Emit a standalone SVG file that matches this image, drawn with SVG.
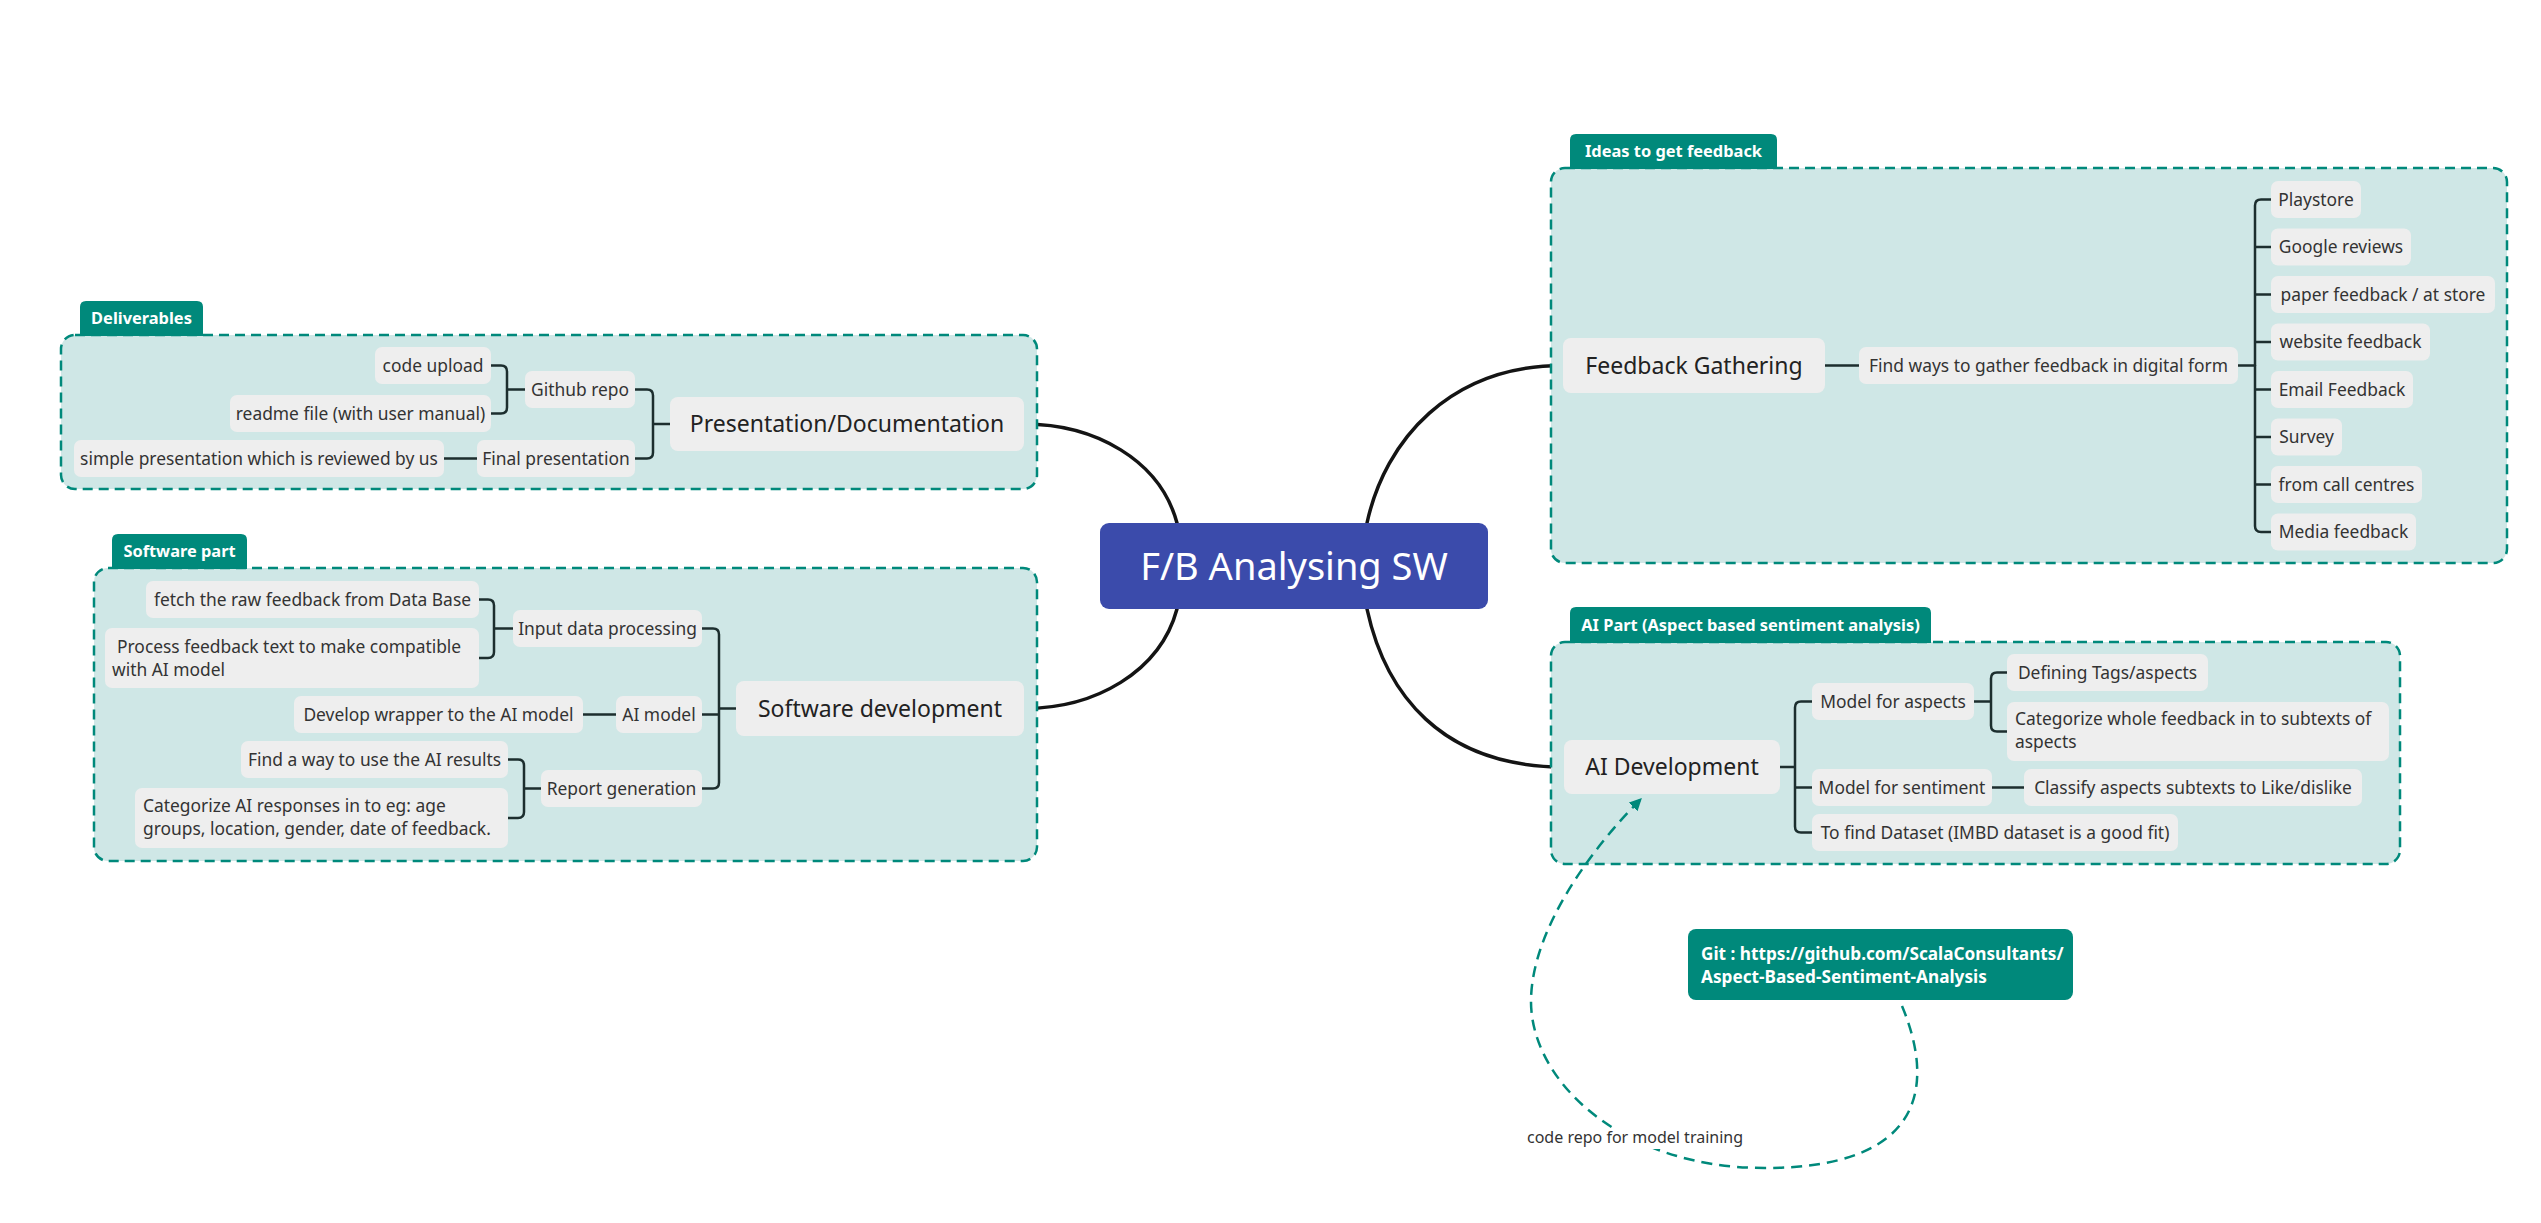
<svg xmlns="http://www.w3.org/2000/svg" width="2541" height="1223" viewBox="0 0 2541 1223">
<style>
.bg{fill:#ffffff}
.box{fill:#cfe7e6;stroke:#00897b;stroke-width:2.5;stroke-dasharray:10 6}
.tab{fill:#00897b}
.tabt{fill:#ffffff;font-family:"Noto Sans","Open Sans",sans-serif;font-size:16.4px;font-weight:700}
.n{fill:#eeeeee}
.t{fill:#333333;font-family:"Noto Sans","Open Sans",sans-serif;font-size:17.4px}
.tc{text-anchor:middle}
.tl{fill:#222222;font-family:"Noto Sans","Open Sans",sans-serif;font-size:23px;text-anchor:middle}
.br{fill:none;stroke:#1c2e2e;stroke-width:2.5;stroke-linecap:round;stroke-linejoin:round}
.main{fill:none;stroke:#141414;stroke-width:3.5;stroke-linecap:round}
.rel{fill:none;stroke:#00897b;stroke-width:2.5;stroke-dasharray:11 7}
</style>
<defs>
<marker id="arr" viewBox="0 0 10 10" refX="9" refY="5" markerWidth="5" markerHeight="5" orient="auto" markerUnits="strokeWidth">
<path d="M0,0 L10,5 L0,10 Z" fill="#00897b"/>
</marker>
</defs>
<rect class="bg" x="0" y="0" width="2541" height="1223"/>

<g id="connectors">
<path class="main" d="M1024,424 C1095,424 1160,460 1177,523"/>
<path class="main" d="M1024,708.5 C1095,708.5 1160,672 1177,609"/>
<path class="main" d="M1367,523 C1385,440 1450,365.5 1563,365.5"/>
<path class="main" d="M1367,609 C1385,692 1440,767 1564,767"/>
</g>

<g id="group-deliverables">
<rect class="box" x="61" y="335" width="976" height="154" rx="14"/>
<path class="tab" d="M80,336 V307 Q80,301 86,301 H197 Q203,301 203,307 V336 Z"/>
<text class="tabt" x="141.5" y="324" text-anchor="middle">Deliverables</text>
</g>
<g id="deliverables-connectors">
<path class="br" d="M491,365.5 H501 Q507,365.5 507,371.5 V407.5 Q507,413.5 501,413.5 H491 M507,389.5 H525"/>
<path class="br" d="M444,458.5 H477"/>
<path class="br" d="M635,389.5 H647 Q653,389.5 653,395.5 V452.5 Q653,458.5 647,458.5 H635 M653,424 H670"/>
</g>
<g id="node-code-upload"><rect class="n" x="375" y="347" width="116" height="37" rx="7"/><text class="t tc" x="433" y="371.5">code upload</text></g>
<g id="node-readme"><rect class="n" x="230" y="395" width="261" height="37" rx="7"/><text class="t tc" x="360.5" y="419.5">readme file (with user manual)</text></g>
<g id="node-github-repo"><rect class="n" x="525" y="371" width="110" height="37" rx="7"/><text class="t tc" x="580" y="395.5">Github repo</text></g>
<g id="node-final-presentation"><rect class="n" x="477" y="440" width="158" height="37" rx="7"/><text class="t tc" x="556" y="464.5">Final presentation</text></g>
<g id="node-simple-presentation"><rect class="n" x="74" y="440" width="370" height="37" rx="7"/><text class="t tc" x="259" y="464.5">simple presentation which is reviewed by us</text></g>
<g id="node-presentation-documentation"><rect class="n" x="670" y="397" width="354" height="54" rx="8"/><text class="tl" x="847" y="432">Presentation/Documentation</text></g>

<g id="group-software">
<rect class="box" x="94" y="568" width="943" height="293" rx="14"/>
<path class="tab" d="M112,569 V540 Q112,534 118,534 H241 Q247,534 247,540 V569 Z"/>
<text class="tabt" x="179.5" y="557" text-anchor="middle">Software part</text>
</g>
<g id="software-connectors">
<path class="br" d="M479,599.5 H488 Q494,599.5 494,605.5 V652 Q494,658 488,658 H479 M494,628.5 H513"/>
<path class="br" d="M583,714.5 H616"/>
<path class="br" d="M508,759.5 H518 Q524,759.5 524,765.5 V812 Q524,818 518,818 H508 M524,788.5 H541"/>
<path class="br" d="M702,628.5 H713 Q719,628.5 719,634.5 V782.5 Q719,788.5 713,788.5 H702 M702,714.5 H719 M719,708.5 H736"/>
</g>
<g id="node-fetch"><rect class="n" x="146" y="581" width="333" height="37" rx="7"/><text class="t tc" x="312.5" y="605.5">fetch the raw feedback from Data Base</text></g>
<g id="node-process"><rect class="n" x="105" y="628" width="374" height="60" rx="7"/><text class="t" x="117" y="653">Process feedback text to make compatible</text><text class="t" x="112" y="676">with AI model</text></g>
<g id="node-input-data"><rect class="n" x="513" y="610" width="189" height="37" rx="7"/><text class="t tc" x="607.5" y="634.5">Input data processing</text></g>
<g id="node-develop-wrapper"><rect class="n" x="294" y="696" width="289" height="37" rx="7"/><text class="t tc" x="438.5" y="720.5">Develop wrapper to the AI model</text></g>
<g id="node-ai-model"><rect class="n" x="616" y="696" width="86" height="37" rx="7"/><text class="t tc" x="659" y="720.5">AI model</text></g>
<g id="node-software-development"><rect class="n" x="736" y="681" width="288" height="55" rx="8"/><text class="tl" x="880" y="716.5">Software development</text></g>
<g id="node-find-way"><rect class="n" x="241" y="741" width="267" height="37" rx="7"/><text class="t tc" x="374.5" y="765.5">Find a way to use the AI results</text></g>
<g id="node-categorize-ai"><rect class="n" x="135" y="788" width="373" height="60" rx="7"/><text class="t" x="143" y="812">Categorize AI responses in to eg: age</text><text class="t" x="143" y="835">groups, location, gender, date of feedback.</text></g>
<g id="node-report-generation"><rect class="n" x="541" y="770" width="161" height="37" rx="7"/><text class="t tc" x="621.5" y="794.5">Report generation</text></g>

<g id="node-center"><rect x="1100" y="523" width="388" height="86" rx="9" fill="#3b4bab"/><text x="1294" y="580" fill="#ffffff" font-family="'Noto Sans','Open Sans',sans-serif" font-size="38" text-anchor="middle">F/B Analysing SW</text></g>

<g id="group-ideas">
<rect class="box" x="1551" y="168" width="956" height="395" rx="14"/>
<path class="tab" d="M1570,169 V140 Q1570,134 1576,134 H1771 Q1777,134 1777,140 V169 Z"/>
<text class="tabt" x="1673.5" y="157" text-anchor="middle">Ideas to get feedback</text>
</g>
<g id="ideas-connectors">
<path class="br" d="M1825,365.5 H1859 M2238,365.5 H2255"/>
<path class="br" d="M2271,199.5 H2261 Q2255,199.5 2255,205.5 V526 Q2255,532 2261,532 H2271 M2255,247 H2271 M2255,294.5 H2271 M2255,342 H2271 M2255,389.5 H2271 M2255,437 H2271 M2255,484.5 H2271"/>
</g>
<g id="node-feedback-gathering"><rect class="n" x="1563" y="338" width="262" height="55" rx="8"/><text class="tl" x="1694" y="373.5">Feedback Gathering</text></g>
<g id="node-find-ways"><rect class="n" x="1859" y="347" width="379" height="37" rx="7"/><text class="t tc" x="2048.5" y="371.5">Find ways to gather feedback in digital form</text></g>
<g id="node-playstore"><rect class="n" x="2271" y="181" width="90" height="37" rx="7"/><text class="t tc" x="2316" y="205.5">Playstore</text></g>
<g id="node-google"><rect class="n" x="2271" y="228.5" width="140" height="37" rx="7"/><text class="t tc" x="2341" y="253">Google reviews</text></g>
<g id="node-paper"><rect class="n" x="2271" y="276" width="224" height="37" rx="7"/><text class="t tc" x="2383" y="300.5">paper feedback / at store</text></g>
<g id="node-website"><rect class="n" x="2271" y="323.5" width="159" height="37" rx="7"/><text class="t tc" x="2350.5" y="348">website feedback</text></g>
<g id="node-email"><rect class="n" x="2271" y="371" width="142" height="37" rx="7"/><text class="t tc" x="2342" y="395.5">Email Feedback</text></g>
<g id="node-survey"><rect class="n" x="2271" y="418.5" width="71" height="37" rx="7"/><text class="t tc" x="2306.5" y="443">Survey</text></g>
<g id="node-call-centres"><rect class="n" x="2271" y="466" width="151" height="37" rx="7"/><text class="t tc" x="2346.5" y="490.5">from call centres</text></g>
<g id="node-media"><rect class="n" x="2271" y="513.5" width="145" height="37" rx="7"/><text class="t tc" x="2343.5" y="538">Media feedback</text></g>

<g id="group-ai">
<rect class="box" x="1551" y="642" width="849" height="222" rx="14"/>
<path class="tab" d="M1570,643 V613 Q1570,607 1576,607 H1925 Q1931,607 1931,613 V643 Z"/>
<text class="tabt" x="1750.5" y="631" text-anchor="middle">AI Part (Aspect based sentiment analysis)</text>
</g>
<g id="ai-connectors">
<path class="br" d="M1780,767 H1795 M1812,701.5 H1801 Q1795,701.5 1795,707.5 V826.5 Q1795,832.5 1801,832.5 H1812 M1795,787.5 H1812"/>
<path class="br" d="M1974,701.5 H1991 M2007,672.5 H1997 Q1991,672.5 1991,678.5 V725.5 Q1991,731.5 1997,731.5 H2007"/>
<path class="br" d="M1992,787.5 H2024"/>
</g>
<g id="node-ai-development"><rect class="n" x="1564" y="740" width="216" height="54" rx="8"/><text class="tl" x="1672" y="775">AI Development</text></g>
<g id="node-model-aspects"><rect class="n" x="1812" y="683" width="162" height="37" rx="7"/><text class="t tc" x="1893" y="707.5">Model for aspects</text></g>
<g id="node-defining-tags"><rect class="n" x="2007" y="654" width="201" height="37" rx="7"/><text class="t tc" x="2107.5" y="678.5">Defining Tags/aspects</text></g>
<g id="node-categorize-whole"><rect class="n" x="2007" y="702" width="382" height="59" rx="7"/><text class="t" x="2015" y="725">Categorize whole feedback in to subtexts of</text><text class="t" x="2015" y="748">aspects</text></g>
<g id="node-model-sentiment"><rect class="n" x="1812" y="769" width="180" height="37" rx="7"/><text class="t tc" x="1902" y="793.5">Model for sentiment</text></g>
<g id="node-classify"><rect class="n" x="2024" y="769" width="338" height="37" rx="7"/><text class="t tc" x="2193" y="793.5">Classify aspects subtexts to Like/dislike</text></g>
<g id="node-find-dataset"><rect class="n" x="1812" y="814" width="366" height="37" rx="7"/><text class="t tc" x="1995" y="838.5">To find Dataset (IMBD dataset is a good fit)</text></g>

<g id="relationship">
<path class="rel" d="M1902,1006 C1935,1085 1925,1168 1765,1168 C1620,1168 1530,1080 1531,1000 C1532,930 1590,850 1641,799" marker-end="url(#arr)"/>
<rect x="1524" y="1128" width="222" height="21" fill="#ffffff"/>
<text x="1527" y="1143" fill="#333333" font-family="'Noto Sans','Open Sans',sans-serif" font-size="16">code repo for model training</text>
</g>

<g id="node-git"><rect x="1688" y="929" width="385" height="71" rx="8" fill="#00897b"/><text x="1701" y="960" fill="#ffffff" font-family="'Noto Sans','Open Sans',sans-serif" font-size="17.2" font-weight="700">Git : https://github.com/ScalaConsultants/</text><text x="1701" y="983" fill="#ffffff" font-family="'Noto Sans','Open Sans',sans-serif" font-size="17.2" font-weight="700">Aspect-Based-Sentiment-Analysis</text></g>
</svg>
